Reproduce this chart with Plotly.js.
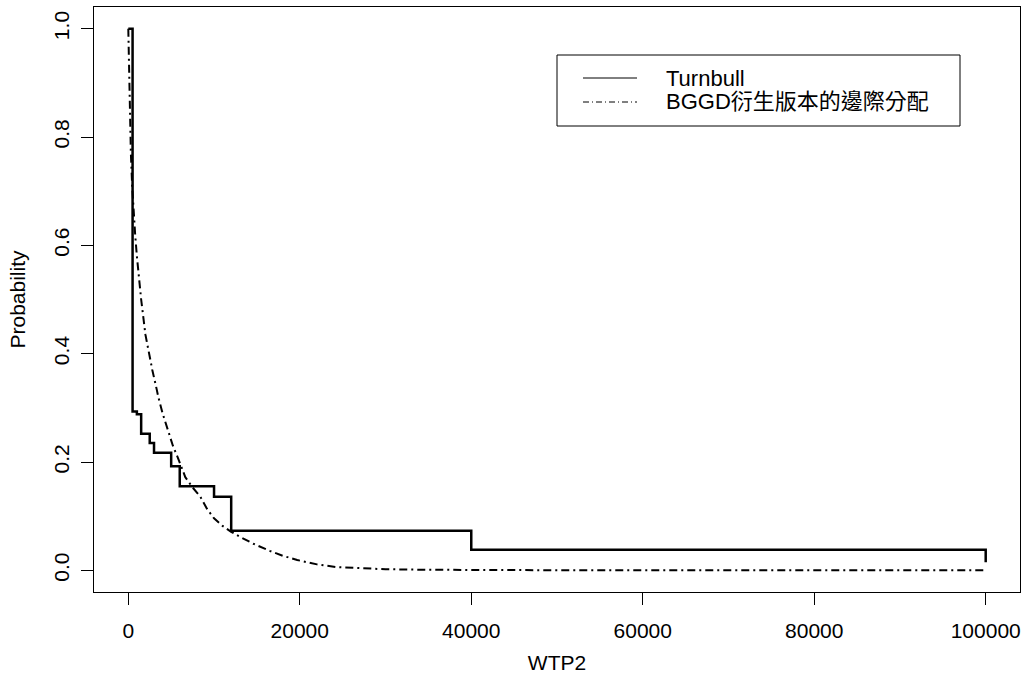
<!DOCTYPE html>
<html>
<head>
<meta charset="utf-8">
<script src="https://cdn.plot.ly/plotly-3.0.1.min.js"></script>
<style>html,body{margin:0;padding:0;background:#fff;}#chart{width:1028px;height:681px;}</style>
</head>
<body>
<div id="chart"></div>
<script>
// Turnbull step estimate (bid value, survival probability)
var turnbullX = [0, 500, 1000, 1500, 2500, 3000, 5000, 6000, 10000, 12000, 40000, 100000, 100000];
var turnbullY = [1.0, 0.293, 0.288, 0.252, 0.235, 0.217, 0.192, 0.155, 0.136, 0.073, 0.038, 0.038, 0.015];

// BGGD derived marginal distribution
var bggdX = [0, 100, 200, 300, 450, 600, 800, 1000, 1250, 1500, 2000, 2400, 2800, 3300, 3500, 4000, 4700, 5200, 5750, 6650, 7500, 8400, 9200, 10000, 11000, 12000, 13000, 14600, 16500, 18000, 19700, 22000, 24300, 27000, 30000, 35000, 40000, 50000, 60000, 70000, 80000, 90000, 100000];
var bggdY = [1.0, 0.90, 0.82, 0.77, 0.71, 0.66, 0.62, 0.58, 0.54, 0.50, 0.435, 0.40, 0.37, 0.335, 0.32, 0.29, 0.253, 0.23, 0.209, 0.172, 0.153, 0.136, 0.113, 0.096, 0.082, 0.071, 0.062, 0.049, 0.036, 0.027, 0.019, 0.011, 0.006, 0.0035, 0.002, 0.001, 0.0005, 0.0002, 0, 0, 0, 0, 0];

var seriesNames = ["Turnbull", "BGGD衍生版本的邊際分配"];
var xTicks = [0, 20000, 40000, 60000, 80000, 100000];
var yTicks = [0.0, 0.2, 0.4, 0.6, 0.8, 1.0];
var yTickText = ["0.0", "0.2", "0.4", "0.6", "0.8", "1.0"];

var FONT = "Liberation Sans, Arial, 'Noto Sans CJK TC', sans-serif";
var DOTDASH = "8px,4px,2px,4px";

var traces = [
  {
    x: turnbullX, y: turnbullY, type: "scatter", mode: "lines",
    line: {shape: "hv", color: "#000", width: 2.5},
    name: seriesNames[0], showlegend: false
  },
  {
    x: bggdX, y: bggdY, type: "scatter", mode: "lines",
    line: {shape: "linear", color: "#000", width: 2, dash: DOTDASH},
    name: seriesNames[1], showlegend: false
  }
];

// legend drawn in paper coordinates (R-style legend box)
function px(x) { return (x - 94) / 926; }
function py(y) { return 1 - (y - 7) / 585; }

var layout = {
  width: 1028, height: 681,
  margin: {l: 94, r: 8, t: 7, b: 89},
  paper_bgcolor: "#fff", plot_bgcolor: "#fff",
  font: {family: FONT, size: 21, color: "#000"},
  showlegend: false,
  xaxis: {
    range: [-4000, 104000],
    tickmode: "array", tickvals: xTicks, ticktext: xTicks.map(String),
    ticks: "outside", ticklen: 12, tickcolor: "#000", tickwidth: 1,
    showline: true, mirror: true, linecolor: "#000", linewidth: 1,
    showgrid: false, zeroline: false,
    ticklabelstandoff: 8,
    title: {text: "WTP2", font: {family: FONT, size: 21}, standoff: 14}
  },
  yaxis: {
    range: [-0.04, 1.04],
    tickmode: "array", tickvals: yTicks, ticktext: yTickText, tickangle: -90,
    ticks: "outside", ticklen: 12, tickcolor: "#000", tickwidth: 1,
    showline: true, mirror: true, linecolor: "#000", linewidth: 1,
    showgrid: false, zeroline: false,
    ticklabelstandoff: 4,
    title: {text: "Probability", font: {family: FONT, size: 21}, standoff: 18}
  },
  shapes: [
    {type: "rect", xref: "paper", yref: "paper",
     x0: px(557), x1: px(960), y0: py(126), y1: py(55),
     line: {color: "#000", width: 1}, fillcolor: "rgba(0,0,0,0)"},
    {type: "line", xref: "paper", yref: "paper",
     x0: px(583), x1: px(637), y0: py(78), y1: py(78),
     line: {color: "#000", width: 1}},
    {type: "line", xref: "paper", yref: "paper",
     x0: px(583), x1: px(637), y0: py(102), y1: py(102),
     line: {color: "#000", width: 1, dash: "6px,3px,1px,3px"}}
  ],
  annotations: [
    {xref: "paper", yref: "paper", x: px(664), y: py(78), xanchor: "left", yanchor: "middle",
     text: seriesNames[0], showarrow: false, font: {family: FONT, size: 22, color: "#000"}},
    {xref: "paper", yref: "paper", x: px(664), y: py(102), xanchor: "left", yanchor: "middle",
     text: seriesNames[1], showarrow: false, font: {family: FONT, size: 22, color: "#000"}}
  ]
};

Plotly.newPlot("chart", traces, layout, {staticPlot: true, displayModeBar: false});
</script>
</body>
</html>
